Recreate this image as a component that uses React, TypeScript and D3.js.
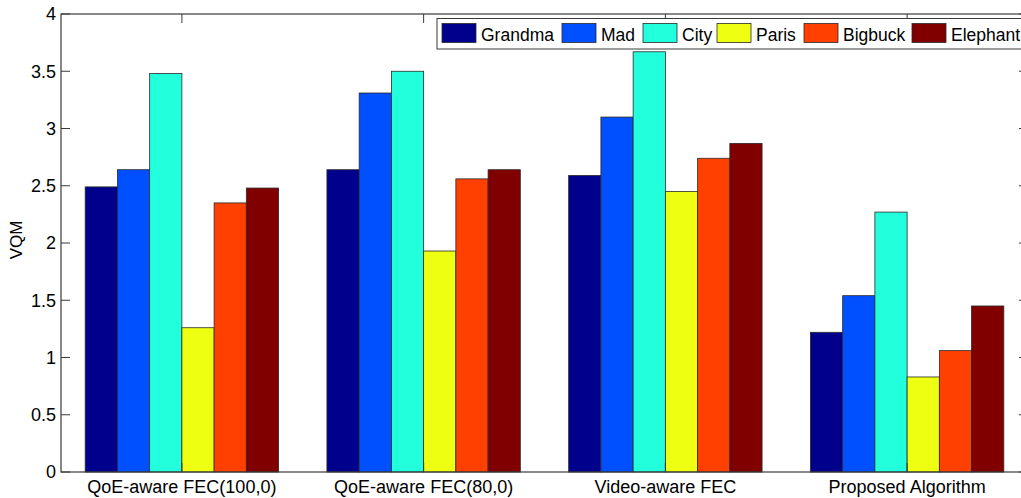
import React from "react";
import * as d3 from "d3";

const categories = ["QoE-aware FEC(100,0)", "QoE-aware FEC(80,0)", "Video-aware FEC", "Proposed Algorithm"];
const seriesNames = ["Grandma", "Mad", "City", "Paris", "Bigbuck", "Elephant"];
const grandma = [2.49, 2.64, 2.59, 1.22];
const mad = [2.64, 3.31, 3.10, 1.54];
const city = [3.48, 3.50, 3.67, 2.27];
const paris = [1.26, 1.93, 2.45, 0.83];
const bigbuck = [2.35, 2.56, 2.74, 1.06];
const elephant = [2.48, 2.64, 2.87, 1.45];
const yTicks = [0, 0.5, 1, 1.5, 2, 2.5, 3, 3.5, 4];
const colors = ["#00008C", "#0050FF", "#22FFDD", "#EEFF11", "#FF4000", "#800000"];

const seriesValues = [grandma, mad, city, paris, bigbuck, elephant];

const W = 1021;
const H = 498;
const left = 61;
const right = 1028;
const top = 14;
const bottom = 472;
const FONT = "'Liberation Sans', Arial, sans-serif";

export default function App() {
  const x = d3.scaleLinear().domain([0.5, categories.length + 0.5]).range([left, right]);
  const y = d3.scaleLinear().domain([0, 4]).range([bottom, top]);
  const axisColor = "#3a3a3a";

  const legendX = [442, 562, 643, 717, 804, 912];

  return (
    <svg width={W} height={H} style={{ position: "absolute", left: 0, top: 0, background: "#fff" }} fontFamily={FONT}>
      <rect x={0} y={0} width={W} height={H} fill="#fff" />
      {categories.map((c, i) => {
        const inner = d3
          .scaleBand<string>()
          .domain(seriesNames)
          .range([x(i + 1 - 0.4), x(i + 1 + 0.4)])
          .padding(0);
        return (
          <g key={c}>
            {seriesNames.map((s, j) => {
              const v = seriesValues[j][i];
              return (
                <rect
                  key={s}
                  x={inner(s)!}
                  y={y(v)}
                  width={inner.bandwidth()}
                  height={y(0) - y(v)}
                  fill={colors[j]}
                  stroke="#2a2a2a"
                  strokeWidth={0.8}
                />
              );
            })}
          </g>
        );
      })}
      {/* box */}
      <rect x={left} y={top} width={right - left} height={bottom - top} fill="none" stroke={axisColor} strokeWidth={1.2} />
      {/* y ticks */}
      {yTicks.map((t) => (
        <g key={t}>
          <line x1={left} x2={left + 9} y1={y(t)} y2={y(t)} stroke={axisColor} strokeWidth={1} />
          <line x1={right} x2={right - 9} y1={y(t)} y2={y(t)} stroke={axisColor} strokeWidth={1} />
          <text x={left - 5} y={y(t)} dy="0.36em" textAnchor="end" fontSize={18} fill="#000">
            {String(t)}
          </text>
        </g>
      ))}
      {/* x ticks */}
      {categories.map((c, i) => (
        <g key={c}>
          <line x1={x(i + 1)} x2={x(i + 1)} y1={top} y2={top + 9} stroke={axisColor} strokeWidth={1} />
          <line x1={x(i + 1)} x2={x(i + 1)} y1={bottom} y2={bottom - 9} stroke={axisColor} strokeWidth={1} />
          <text x={x(i + 1)} y={493} textAnchor="middle" fontSize={18} fill="#000">
            {c}
          </text>
        </g>
      ))}
      {/* y label */}
      <text transform="translate(22,240) rotate(-90)" textAnchor="middle" fontSize={17} fill="#000">
        VQM
      </text>
      {/* legend */}
      <rect x={437} y={18.5} width={600} height={30.5} fill="#fff" stroke={axisColor} strokeWidth={1} />
      {seriesNames.map((s, j) => (
        <g key={s}>
          <rect x={legendX[j]} y={23.5} width={34} height={19} fill={colors[j]} stroke="#2a2a2a" strokeWidth={0.8} />
          <text x={legendX[j] + 39} y={40.5} fontSize={17.5} fill="#000">
            {s}
          </text>
        </g>
      ))}
    </svg>
  );
}
